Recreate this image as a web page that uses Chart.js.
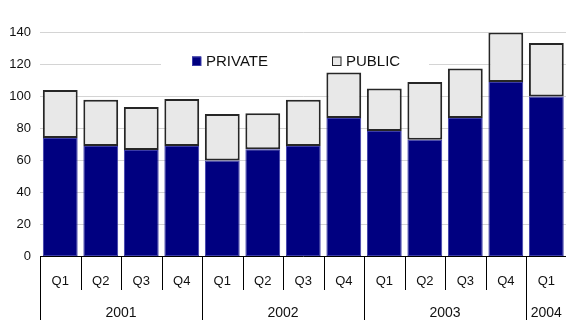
<!DOCTYPE html>
<html>
<head>
<meta charset="utf-8">
<script src="https://cdn.jsdelivr.net/npm/chart.js@4.4.1/dist/chart.umd.min.js"></script>
<style>
  html, body { margin: 0; padding: 0; background: #fff; overflow: hidden; }
  #wrap { width: 566px; height: 320px; overflow: hidden; }
</style>
</head>
<body>
<div id="wrap"><canvas id="chart" width="572" height="320"></canvas></div>
<script>
// quarters, years, values
const quarters = ['Q1', 'Q2', 'Q3', 'Q4', 'Q1', 'Q2', 'Q3', 'Q4', 'Q1', 'Q2', 'Q3', 'Q4', 'Q1'];
const years = ['2001', '2002', '2003', '2004'];
const quartersPerYear = [4, 4, 4, 1];
const privateValues = [74, 69, 66.5, 69, 60, 67, 69, 86.5, 78.5, 73, 86.5, 109, 100];
const publicValues = [30, 29, 27, 29.5, 29, 22.5, 29, 28.5, 26.5, 36, 31, 31, 33.5];
const seriesNames = ['PRIVATE', 'PUBLIC'];
const yMax = 140;
const yStep = 20;

const FONT = '"Liberation Sans", Arial, sans-serif';
const NAVY = '#000080';
const LIGHT = '#e8e8e8';

// separators + year row under the x axis
const axisLabels = {
    id: 'axisLabels',
    afterDraw(chart) {
        const ctx = chart.ctx;
        const x = chart.scales.x;
        const top = chart.chartArea.bottom;
        const half = (x.getPixelForValue(1) - x.getPixelForValue(0)) / 2;
        const edge = i => i < quarters.length ? x.getPixelForValue(i) - half : x.getPixelForValue(quarters.length - 1) + half;

        // which boundaries start a year
        const yearStarts = [];
        let n = 0;
        quartersPerYear.forEach(c => { yearStarts.push(n); n += c; });

        ctx.save();
        ctx.strokeStyle = '#000';
        ctx.lineWidth = 1;
        for (let i = 0; i <= quarters.length; i++) {
            const px = Math.round(edge(i)) + 0.5;
            const full = yearStarts.includes(i) || i === quarters.length;
            ctx.beginPath();
            ctx.moveTo(px, top);
            ctx.lineTo(px, full ? 320 : 290);
            ctx.stroke();
        }

        ctx.fillStyle = '#111';
        ctx.font = '14px ' + FONT;
        ctx.textAlign = 'center';
        ctx.textBaseline = 'middle';
        yearStarts.forEach((s, k) => {
            const cx = (edge(s) + edge(s + quartersPerYear[k])) / 2;
            ctx.fillText(years[k], cx, 313);
        });
        ctx.restore();
    }
};

// legend inside the plot, on a white box
const innerLegend = {
    id: 'innerLegend',
    beforeDatasetsDraw(chart) {
        const ctx = chart.ctx;
        ctx.save();
        ctx.fillStyle = '#fff';
        ctx.fillRect(161, 50, 268, 22);
        ctx.restore();
    },
    afterDatasetsDraw(chart) {
        const ctx = chart.ctx;
        const items = [
            { x: 192, fill: NAVY, stroke: '#3c3ca8' },
            { x: 332, fill: LIGHT, stroke: '#222' }
        ];
        ctx.save();
        ctx.font = '15px ' + FONT;
        ctx.textBaseline = 'middle';
        items.forEach((it, i) => {
            ctx.fillStyle = it.fill;
            ctx.fillRect(it.x, 56.5, 9, 9);
            ctx.strokeStyle = it.stroke;
            ctx.lineWidth = 1;
            ctx.strokeRect(it.x + 0.5, 57, 8.5, 8.5);
            ctx.fillStyle = '#111';
            ctx.fillText(seriesNames[i], it.x + 14, 61.5);
        });
        ctx.restore();
    }
};

new Chart(document.getElementById('chart'), {
    type: 'bar',
    data: {
        labels: quarters,
        datasets: [
            {
                label: seriesNames[0],
                data: privateValues,
                backgroundColor: NAVY,
                borderColor: '#3c3ca8',
                borderWidth: 1,
                borderSkipped: false
            },
            {
                label: seriesNames[1],
                data: publicValues,
                backgroundColor: LIGHT,
                borderColor: '#262626',
                borderWidth: 2,
                borderSkipped: false
            }
        ]
    },
    options: {
        responsive: false,
        animation: false,
        layout: { padding: { top: 32.5, right: 0, left: 0, bottom: 0 } },
        datasets: { bar: { categoryPercentage: 1, barPercentage: 0.86 } },
        plugins: {
            legend: { display: false },
            tooltip: { enabled: false }
        },
        scales: {
            x: {
                stacked: true,
                grid: { display: false, drawTicks: false },
                border: { display: true, color: '#000', width: 1 },
                ticks: {
                    color: '#111',
                    font: { family: FONT, size: 13 },
                    padding: 17,
                    maxRotation: 0,
                    autoSkip: false
                },
                afterFit(scale) { scale.height = 63.5; }
            },
            y: {
                stacked: true,
                min: 0,
                max: yMax,
                grid: { color: '#d4d4d4', drawTicks: false },
                border: { display: false },
                ticks: {
                    stepSize: yStep,
                    color: '#111',
                    font: { family: FONT, size: 13 },
                    padding: 9
                },
                afterFit(scale) { scale.width = 40; }
            }
        }
    },
    plugins: [axisLabels, innerLegend]
});
</script>
</body>
</html>
